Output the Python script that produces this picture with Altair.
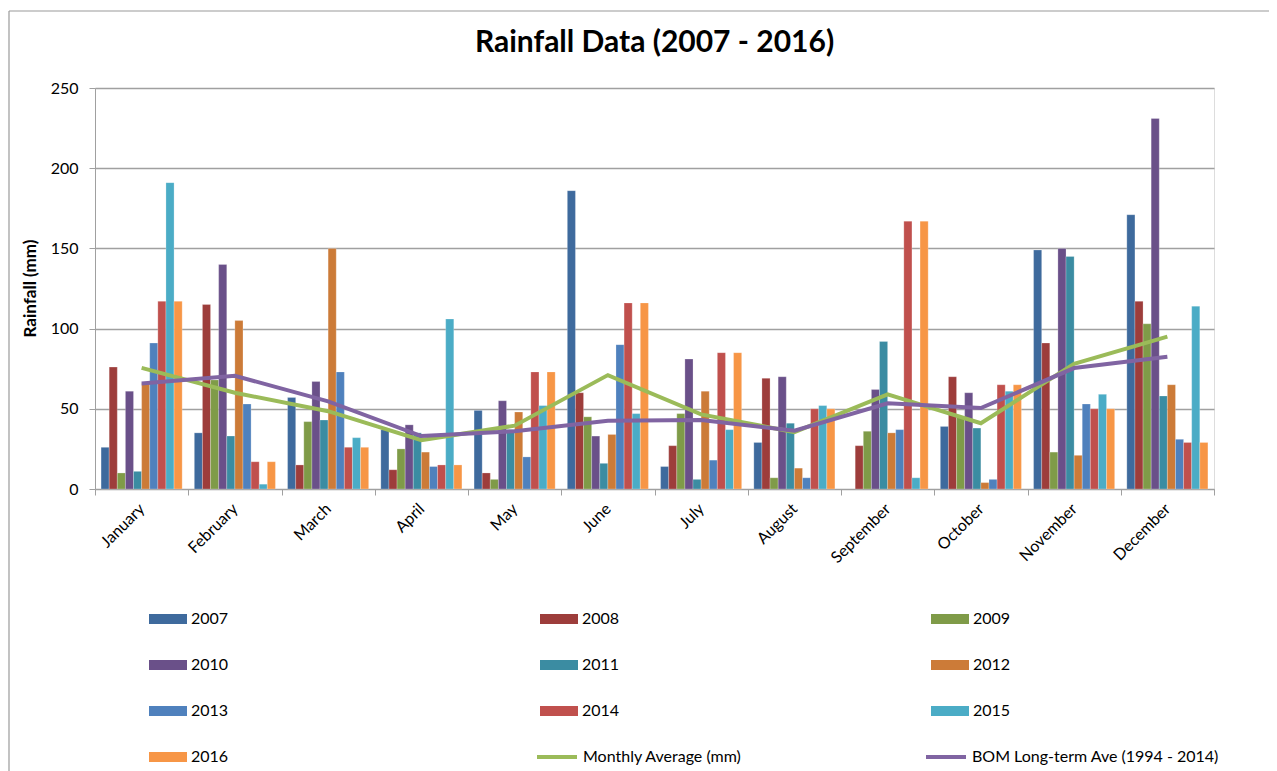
import altair as alt
import pandas as pd

months = ["January", "February", "March", "April", "May", "June", "July",
          "August", "September", "October", "November", "December"]
years = ["2007", "2008", "2009", "2010", "2011", "2012", "2013", "2014", "2015", "2016"]

y2007 = [26, 35, 57, 37, 49, 186, 14, 29, None, 39, 149, 171]
y2008 = [76, 115, 15, 12, 10, 60, 27, 69, 27, 70, 91, 117]
y2009 = [10, 68, 42, 25, 6, 45, 47, 7, 36, 45, 23, 103]
y2010 = [61, 140, 67, 40, 55, 33, 81, 70, 62, 60, 150, 231]
y2011 = [11, 33, 43, 35, 37, 16, 6, 41, 92, 38, 145, 58]
y2012 = [66, 105, 150, 23, 48, 34, 61, 13, 35, 4, 21, 65]
y2013 = [91, 53, 73, 14, 20, 90, 18, 7, 37, 6, 53, 31]
y2014 = [117, 17, 26, 15, 73, 116, 85, 50, 167, 65, 50, 29]
y2015 = [191, 3, 32, 106, 52, 47, 37, 52, 7, 61, 59, 114]
y2016 = [117, 17, 26, 15, 73, 116, 85, 50, 167, 65, 50, 29]

monthly_avg = [75.5, 60, 48.5, 30.5, 39.5, 71, 46.5, 35.5, 59, 41, 78, 95]
bom_longterm = [65.8, 70.6, 54.6, 33, 36, 42.6, 43, 36.3, 53.4, 50.5, 75.4, 82.5]

year_colors = ["#3E6A9D", "#9D3D3B", "#7F9B48", "#6A5089", "#3B8CA2",
               "#CC7B38", "#4F81BD", "#C0504D", "#4BACC6", "#F79646"]
line_names = ["Monthly Average (mm)", "BOM Long-term Ave (1994 - 2014)"]
line_colors = ["#9BBB59", "#8064A2"]

series = [y2007, y2008, y2009, y2010, y2011, y2012, y2013, y2014, y2015, y2016]
rows = []
for yr, vals in zip(years, series):
    for m, v in zip(months, vals):
        if v is not None:
            rows.append({"Month": m, "Year": yr, "Rainfall": v})
bars_df = pd.DataFrame(rows)

lrows = []
for name, vals in zip(line_names, [monthly_avg, bom_longterm]):
    for m, v in zip(months, vals):
        lrows.append({"Month": m, "Series": name, "Rainfall": v})
lines_df = pd.DataFrame(lrows)

FONT = "Lato"
GRAY = "#A0A0A0"

x_enc = alt.X(
    "Month:N", sort=months,
    scale=alt.Scale(paddingInner=0, paddingOuter=0),
    axis=alt.Axis(title=None, labelAngle=-45, labelAlign="right", labelBaseline="middle",
                  tickBand="extent", ticks=True, tickSize=6, labelPadding=11,
                  domainColor=GRAY, tickColor=GRAY, grid=False,
                  labelFont=FONT, labelFontSize=16, labelColor="#000000"),
)
y_enc = alt.Y(
    "Rainfall:Q",
    scale=alt.Scale(domain=[0, 250], nice=False),
    axis=alt.Axis(title="Rainfall  (mm)", values=[0, 50, 100, 150, 200, 250],
                  tickSize=6, labelPadding=11, domainColor=GRAY, tickColor=GRAY,
                  gridColor=GRAY, gridWidth=1.4, labelFont=FONT, labelFontSize=16,
                  labelColor="#000000", titleFont=FONT, titleFontSize=17,
                  titleFontWeight="bold", titleColor="#000000", titleAngle=270,
                  titleX=-65, titleY=200, titleAlign="center", titleBaseline="middle"),
)

bars = alt.Chart(bars_df).mark_bar(stroke="white", strokeWidth=0.4, strokeOpacity=0.6).encode(
    x=x_enc,
    y=y_enc,
    xOffset=alt.XOffset("Year:N", sort=years,
                        scale=alt.Scale(paddingInner=0, paddingOuter=0.75)),
    fill=alt.Fill("Year:N", sort=years,
                  scale=alt.Scale(domain=years, range=year_colors),
                  legend=alt.Legend(orient="none", legendX=54, legendY=512, columns=3,
                                    direction="horizontal",
                                    title=None, symbolType="M-1,-0.263H1V0.263H-1Z",
                                    symbolSize=1444, symbolStrokeWidth=0,
                                    labelFont=FONT, labelFontSize=16, labelColor="#000000",
                                    labelOffset=4, rowPadding=19, columnPadding=311,
                                    padding=0)),
)

lines = alt.Chart(lines_df).mark_line(strokeWidth=4).encode(
    x=alt.X("Month:N", sort=months),
    y=alt.Y("Rainfall:Q"),
    stroke=alt.Stroke("Series:N", sort=line_names,
                      scale=alt.Scale(domain=line_names, range=line_colors),
                      legend=alt.Legend(orient="none", legendX=440, legendY=647, columns=2,
                                        direction="horizontal",
                                        title=None, symbolType="stroke", symbolSize=1600,
                                        symbolStrokeWidth=4, labelFont=FONT, labelFontSize=16,
                                        labelColor="#000000", labelOffset=4, labelLimit=400,
                                        columnPadding=176, padding=0)),
)

frame_df = pd.DataFrame({"k": [0]})
border_top = alt.Chart(frame_df).mark_rule(color="#9A9A9A", strokeWidth=1.2).encode(
    x=alt.value(-86), x2=alt.value(1200), y=alt.value(-77))
border_left = alt.Chart(frame_df).mark_rule(color="#9A9A9A", strokeWidth=1.2).encode(
    x=alt.value(-86), y=alt.value(-77), y2=alt.value(700))

chart = alt.layer(border_top, border_left, bars, lines).resolve_scale(x="shared").properties(
    width=1119, height=401,
    title=alt.TitleParams("Rainfall Data (2007 - 2016)", font=FONT, fontSize=30,
                          fontWeight="bold", color="#000000", anchor="middle", offset=-48),
    autosize=alt.AutoSizeParams(type="none"),
    padding={"left": 87, "top": 80, "right": 55, "bottom": 282},
).configure_view(stroke=None).configure(background="white")

chart.save("out.html", embed_options={"renderer": "svg", "actions": False})
